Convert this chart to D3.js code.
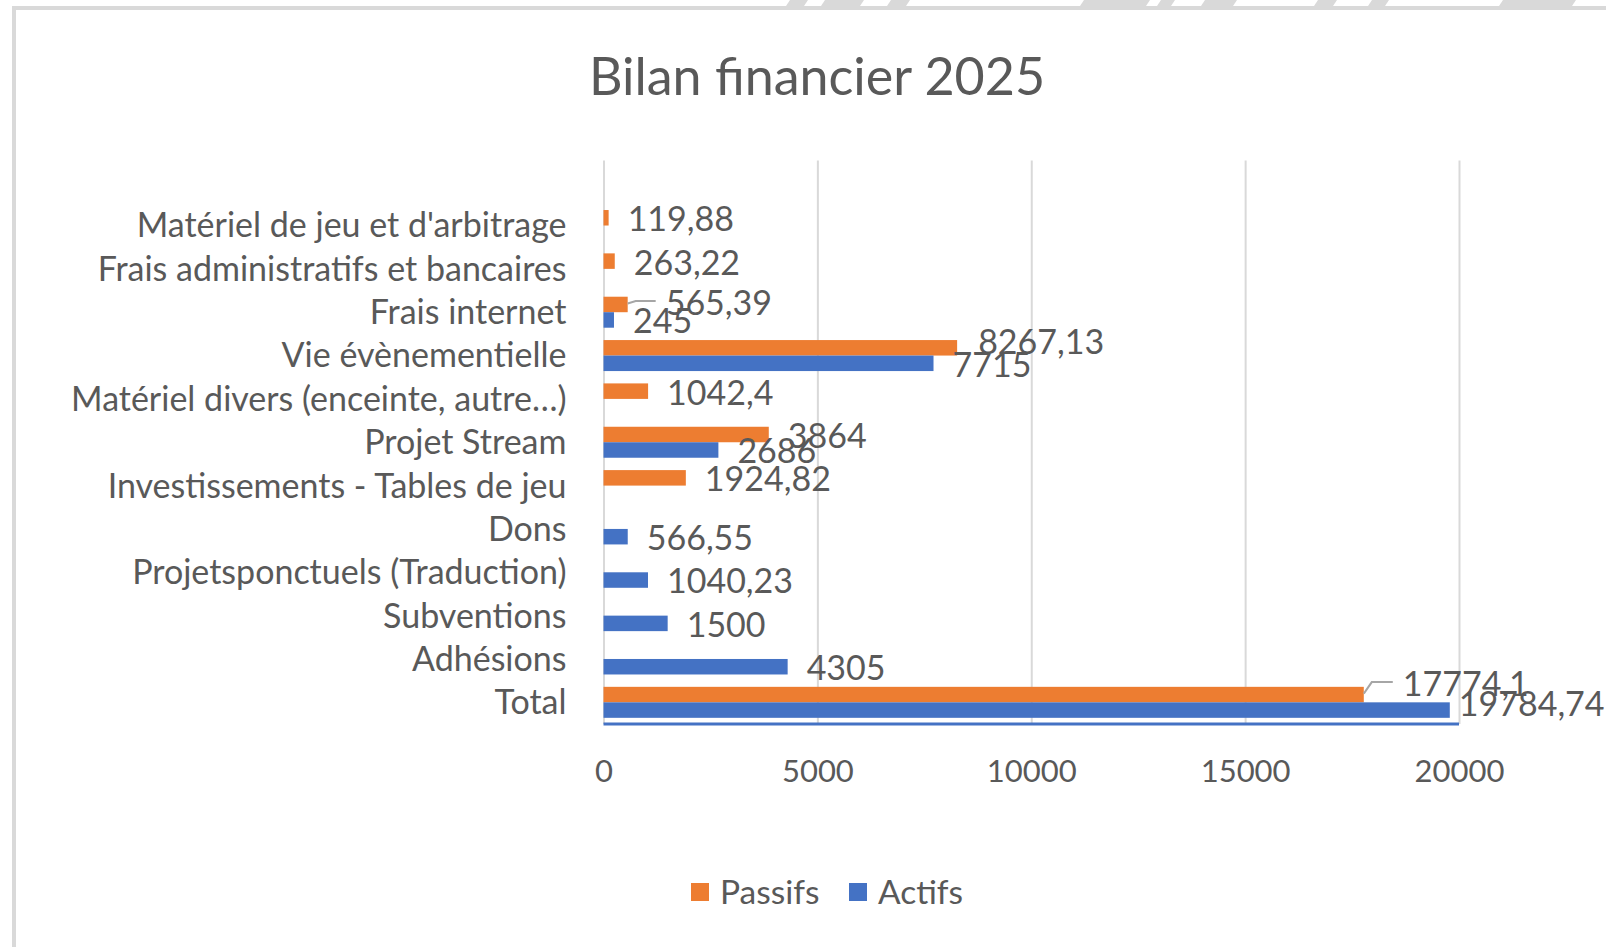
<!DOCTYPE html>
<html>
<head>
<meta charset="utf-8">
<script src="https://cdn.jsdelivr.net/npm/d3@7"></script>
<style>
  html, body { margin: 0; padding: 0; background: #fff; }
  svg { display: block; }
  text { font-family: Lato, "Open Sans", sans-serif; fill: #595959; }
</style>
</head>
<body>
<svg id="chart" width="1606" height="947"></svg>
<script>
// ---- Data (top-to-bottom order as displayed) ----
const categories = [
  "",
  "Matériel de jeu et d'arbitrage",
  "Frais administratifs et bancaires",
  "Frais internet",
  "Vie évènementielle",
  "Matériel divers (enceinte, autre…)",
  "Projet Stream",
  "Investissements - Tables de jeu",
  "Dons",
  "Projetsponctuels (Traduction)",
  "Subventions",
  "Adhésions",
  "Total"
];
const passifs = [null, 119.88, 263.22, 565.39, 8267.13, 1042.4, 3864, 1924.82, null, null, null, null, 17774.1];
const actifs  = [null, null, null, 245, 7715, null, 2686, null, 566.55, 1040.23, 1500, 4305, 19784.74];
const seriesNames = ["Passifs", "Actifs"];
const xTicks = [0, 5000, 10000, 15000, 20000];
const title = "Bilan financier 2025";

// ---- Styles / layout ----
const colors = { Passifs: "#ED7D31", Actifs: "#4472C4" };
const plot = { left: 603.5, right: 1459, top: 160.5, bottom: 724 };
const labelFont = 34;
const tickFont = 31;
const dataFont = 34;
const legendFont = 33.5;

const svg = d3.select("#chart");

// frame decoration
const deco = svg.append("g").attr("fill", "#d9d9d9");
deco.append("rect").attr("x", 12).attr("y", 6).attr("width", 1594).attr("height", 4);
deco.append("rect").attr("x", 12).attr("y", 6).attr("width", 4).attr("height", 941);
const decoPieces = [[786,808],[821,864],[887,910],[1080,1150],[1157,1175],[1201,1237],[1314,1337],[1368,1389],[1499,1576]];
decoPieces.forEach(([a,b]) => {
  deco.append("path").attr("d", `M${a},6 L${a+4},0 L${b},0 L${b-4},6 Z`);
});

// title
svg.append("text")
  .attr("x", 817).attr("y", 77).attr("dy", "0.35em")
  .attr("text-anchor", "middle")
  .style("font-size", "52px")
  .text(title);

// scales
const x = d3.scaleLinear().domain([0, 20000]).range([plot.left, plot.right]);
const y = d3.scaleBand().domain(d3.range(categories.length))
  .range([plot.top, plot.bottom]).paddingInner(0.285).paddingOuter(0.1425);
const sub = d3.scaleBand().domain(seriesNames).range([0, y.bandwidth()]);

// gridlines
const xAxis = d3.axisBottom(x).tickValues(xTicks).tickSize(-(plot.bottom - plot.top)).tickFormat(d => d);
const gx = svg.append("g").attr("transform", `translate(0,${plot.bottom})`).call(xAxis);
gx.select(".domain").remove();
gx.selectAll(".tick line").attr("stroke", "#d9d9d9").attr("stroke-width", 2);
gx.selectAll(".tick text").attr("y", 47).attr("dy", "0.35em")
  .style("font-size", tickFont + "px").style("font-family", "Lato, sans-serif").attr("fill", "#595959");

// category labels
const yAxis = d3.axisLeft(y).tickFormat(i => categories[i]).tickSize(0).tickPadding(37);
const gy = svg.append("g").attr("transform", `translate(${plot.left},0)`).call(yAxis);
gy.select(".domain").remove();
gy.selectAll(".tick text").style("font-size", labelFont + "px")
  .style("font-family", "Lato, sans-serif").attr("fill", "#595959").attr("dy", "0.35em");

// bars
const rows = [];
categories.forEach((c, i) => {
  rows.push({ i, s: "Passifs", v: passifs[i] });
  rows.push({ i, s: "Actifs", v: actifs[i] });
});
const barRows = rows.filter(d => d.v != null);

svg.append("g").selectAll("rect").data(barRows).join("rect")
  .attr("x", x(0))
  .attr("y", d => y(d.i) + sub(d.s))
  .attr("width", d => x(d.v) - x(0))
  .attr("height", sub.bandwidth())
  .attr("fill", d => colors[d.s]);

// bottom blue axis line
svg.append("line")
  .attr("x1", x(0)).attr("x2", x(20000))
  .attr("y1", plot.bottom).attr("y2", plot.bottom)
  .attr("stroke", "#4472C4").attr("stroke-width", 3);

// data labels (label offset tweaks where the original moved labels)
const labelShift = {
  "3-Passifs": { dx: 19, dy: -3, leader: true },
  "4-Passifs": { dx: 2, dy: -7 },
  "12-Passifs": { dx: 20, dy: -12, leader: true },
  "12-Actifs": { dx: -10, dy: -7 }
};
const fmt = v => String(v).replace(".", ",");
const lbl = svg.append("g");
barRows.forEach(d => {
  const sh = labelShift[d.i + "-" + d.s] || { dx: 0, dy: 0 };
  const x0 = x(d.v);
  const yc = y(d.i) + sub(d.s) + sub.bandwidth() / 2;
  const tx = x0 + 19 + sh.dx;
  const ty = yc + 1.5 + sh.dy;
  if (sh.leader) {
    lbl.append("path")
      .attr("d", `M${x0},${yc - 1} L${x0 + 8},${ty - 2} L${tx - 10},${ty - 2}`)
      .attr("fill", "none").attr("stroke", "#a6a6a6").attr("stroke-width", 2);
  }
  lbl.append("text")
    .attr("x", tx).attr("y", ty).attr("dy", "0.35em")
    .style("font-size", dataFont + "px")
    .text(fmt(d.v));
});

// legend
const lg = svg.append("g");
const legendItems = [{ s: "Passifs", x: 691 }, { s: "Actifs", x: 849 }];
legendItems.forEach(it => {
  lg.append("rect").attr("x", it.x).attr("y", 883).attr("width", 18).attr("height", 18).attr("fill", colors[it.s]);
  lg.append("text").attr("x", it.x + 29).attr("y", 892).attr("dy", "0.35em")
    .style("font-size", legendFont + "px").text(it.s);
});
</script>
</body>
</html>
